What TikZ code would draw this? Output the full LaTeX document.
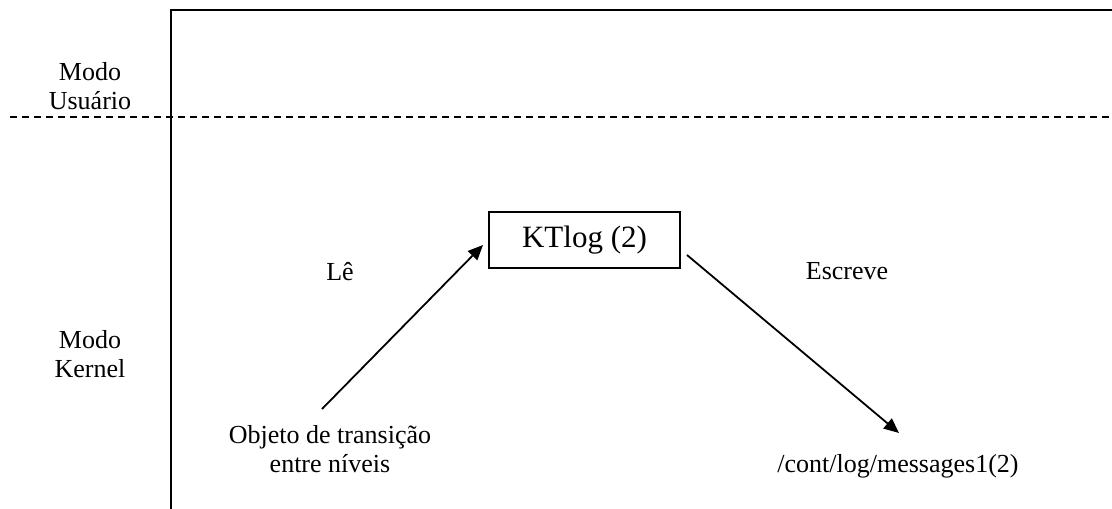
\documentclass[tikz,border=0pt]{standalone}
\usepackage{fontspec}
\setmainfont{Liberation Serif}
\usetikzlibrary{arrows.meta}
\begin{document}
\begin{tikzpicture}[x=1pt,y=-1pt,
  lbl/.style={inner sep=0pt,align=center,font=\fontsize{26}{29}\selectfont},
  frame/.style={line width=2pt},
  divider/.style={line width=1.6pt,dash pattern=on 7pt off 5pt},
  conn/.style={line width=1.8pt,-{Triangle[length=15pt,width=13pt]}},
  box/.style={draw,line width=1.5pt,minimum width=191pt,minimum height=56pt,inner sep=0pt,font=\fontsize{31}{36}\selectfont}]
\useasboundingbox (0,0) rectangle (1112,509);
% frame
\draw[frame] (171,509) -- (171,10) -- (1112,10);
\draw[divider] (10,117) -- (1112,117);
% labels (base = last line)
\node[lbl,anchor=base] (usr) at (90,109) {Modo\\Usuário};
\node[lbl,anchor=base] (ker) at (90,377) {Modo\\Kernel};
\node[lbl,anchor=base] (le) at (340,280) {Lê};
\node[lbl,anchor=base] (esc) at (847,279) {Escreve};
\node[box] (kt) at (584.5,240) {KTlog (2)};
\node[lbl,anchor=base] (obj) at (330,472) {Objeto de transição\\entre níveis};
\node[lbl,anchor=base] (msg) at (898,472) {/cont/log/messages1(2)};
% connectors
\coordinate (a1s) at (322,409);
\coordinate (a1e) at (483,245);
\coordinate (a2s) at (687,255);
\coordinate (a2e) at (899,433);
\draw[conn] (a1s) -- (a1e);
\draw[conn] (a2s) -- (a2e);
\end{tikzpicture}
\end{document}
